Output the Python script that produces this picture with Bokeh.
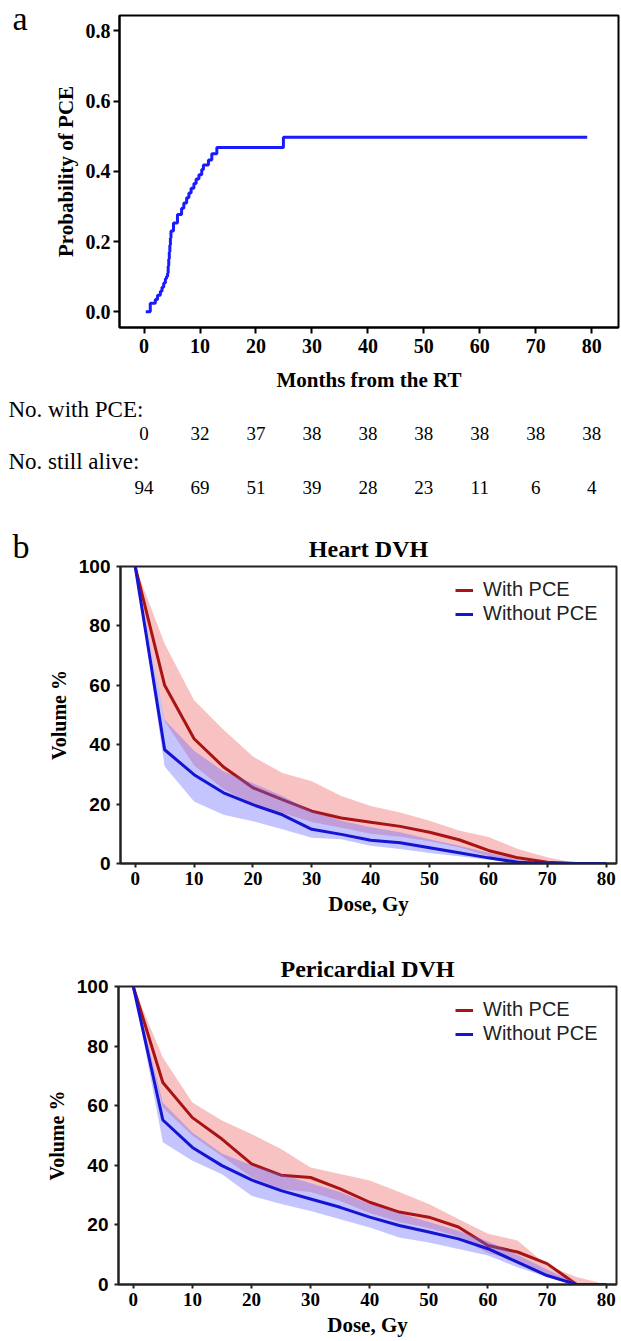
from bokeh.plotting import figure
from bokeh.layouts import column, row
from bokeh.models import (Range1d, FixedTicker, NumeralTickFormatter, ColumnDataSource,
                          Legend, LegendItem)
from bokeh.core.properties import value
from bokeh.embed import file_html
from bokeh.resources import INLINE

# ---------------- Panel a data (cumulative incidence of PCE) ----------------
km_months = [0.3, 1.1, 2.0, 2.4, 2.9, 3.2, 3.5, 3.8, 4.0, 4.2, 4.3, 4.4, 4.5, 4.6, 4.7, 4.8,
             5.25, 5.96, 6.7, 7.1, 7.6, 8.0, 8.4, 8.9, 9.3, 9.8, 10.3, 10.6, 11.5, 12.1,
             13.0, 24.9, 79.2]
km_prob = [0.0, 0.024, 0.035, 0.047, 0.058, 0.07, 0.082, 0.094, 0.10, 0.11, 0.13, 0.15, 0.17,
           0.19, 0.21, 0.23, 0.253, 0.277, 0.295, 0.31, 0.325, 0.338, 0.352, 0.365, 0.378,
           0.39, 0.405, 0.418, 0.432, 0.45, 0.468, 0.497, 0.497]

table_months = [0, 10, 20, 30, 40, 50, 60, 70, 80]
pce_counts = [0, 32, 37, 38, 38, 38, 38, 38, 38]
alive_counts = [94, 69, 51, 39, 28, 23, 11, 6, 4]
row_labels = ["No. with PCE:", "No. still alive:"]

# ---------------- Panel b data (DVH) ----------------
dose = [0, 5, 10, 15, 20, 25, 30, 35, 40, 45, 50, 55, 60, 65, 70, 75, 80]

heart_with = [100, 60, 42, 32.5, 25.5, 21.5, 17.6, 15.3, 13.9, 12.5, 10.5, 8, 4.4, 1.9, 0.4, 0, 0]
heart_with_hi = [100, 74, 55, 45, 36, 30.5, 27.7, 22.7, 19.4, 17.2, 14.4, 11.1, 8.9, 4.9, 2.1, 0, 0]
heart_with_lo = [100, 48, 33, 25, 20, 17, 14, 12, 10, 9, 7.5, 5.5, 2.5, 0.8, 0, 0, 0]
heart_wo = [100, 38.3, 29.9, 23.8, 19.8, 16.4, 11.5, 9.8, 7.8, 7.0, 5.3, 3.6, 1.9, 0.4, 0, 0, 0]
heart_wo_hi = [100, 48.4, 38, 31, 27, 22.7, 17.6, 14.4, 12.2, 10.5, 8.2, 6, 3.6, 1.3, 0, 0, 0]
heart_wo_lo = [100, 32.7, 20.9, 16.4, 14.2, 11.5, 8.7, 8.2, 6, 4.9, 3.5, 2.4, 1.3, 0.4, 0, 0, 0]

peri_with = [100, 67.8, 56, 48.8, 40.5, 36.7, 35.9, 32.1, 27.6, 24.3, 22.6, 19.3, 13.1, 10.9, 7.0, 0, 0]
peri_with_hi = [100, 76.2, 61.1, 55, 50.5, 45.5, 39.3, 37.1, 34.9, 31, 27, 22, 17, 14.8, 6.4, 2.5, 0]
peri_with_lo = [100, 59.4, 50, 43, 36, 32, 31, 28, 24, 21, 19, 16, 10.5, 8, 3, 0, 0]
peri_wo = [100, 55.2, 46, 39.9, 35.1, 31.5, 28.7, 25.9, 22.6, 19.8, 17.6, 15.3, 12, 7.5, 3, 0, 0]
peri_wo_hi = [100, 61, 51, 44, 40, 37, 34, 31, 27, 24, 21, 18, 14.5, 10, 5, 0.5, 0]
peri_wo_lo = [100, 47.7, 41.5, 37, 29.8, 27, 24.7, 21.9, 19.1, 15.8, 14.1, 11.9, 9.7, 5.8, 2.5, 0, 0]

SERIF = "Liberation Serif"
SANS = "Liberation Sans"


def blank_fig(width, height, x_range, y_range):
    p = figure(width=width, height=height, x_range=x_range, y_range=y_range,
               output_backend="svg", toolbar_location=None, frame_align=False,
               x_axis_type=None, y_axis_type=None,
               min_border_left=0, min_border_right=0, min_border_top=0, min_border_bottom=0)
    p.grid.visible = False
    p.outline_line_color = None
    return p


def letter_fig(letter, height, baseline_px):
    p = blank_fig(44, height, Range1d(0, 44), Range1d(height, 0))
    p.text(x=[12], y=[baseline_px], text=[letter], text_font=value(SERIF),
           text_font_size=value("34px"), text_align="left", text_baseline="alphabetic",
           text_color="black")
    return p


# ======================= Panel a =======================
PA_H = 394
pa = figure(width=576, height=PA_H, x_range=Range1d(-4.4, 84.8), y_range=Range1d(-0.045, 0.844),
            output_backend="svg", toolbar_location=None, frame_align=False,
            min_border_left=75, min_border_right=2, min_border_top=15,
            min_border_bottom=PA_H - 331)
pa.step(km_months, km_prob, mode="after", line_color="#1a1aff", line_width=3)

pa.grid.visible = False
pa.outline_line_color = "black"
pa.outline_line_width = 2
for ax in (pa.xaxis, pa.yaxis):
    ax.axis_line_color = "black"
    ax.axis_line_width = 2
    ax.major_tick_line_color = "black"
    ax.major_tick_line_width = 2
    ax.major_tick_in = 0
    ax.major_tick_out = 6
    ax.minor_tick_line_color = None
    ax.major_label_text_font = SERIF
    ax.major_label_text_font_style = "bold"
    ax.major_label_text_font_size = "20px"
    ax.major_label_text_color = "black"
    ax.axis_label_text_font = SERIF
    ax.axis_label_text_font_style = "bold"
    ax.axis_label_text_font_size = "21px"
    ax.axis_label_text_color = "black"
pa.xaxis.ticker = FixedTicker(ticks=table_months)
pa.yaxis.ticker = FixedTicker(ticks=[0, 0.2, 0.4, 0.6, 0.8])
pa.yaxis.formatter = NumeralTickFormatter(format="0.0")
pa.xaxis.axis_label = "Months from the RT"
pa.yaxis.axis_label = "Probability of PCE"
pa.xaxis.major_label_standoff = 5
pa.xaxis.axis_label_standoff = 12
pa.yaxis.major_label_standoff = 3
pa.yaxis.axis_label_standoff = 5

row_a = row(letter_fig("a", PA_H, 18), pa)

# ---------------- risk table (same month scale as panel a) ----------------
TBL_H = 109
px_per_month = 499 / 89.2
x0_px = 44 + 75 + 4.4 * px_per_month
tbl = blank_fig(620, TBL_H, Range1d(-x0_px / px_per_month, (620 - x0_px) / px_per_month),
                Range1d(TBL_H, 0))
label_x = (8 - x0_px) / px_per_month
tbl.text(x=[label_x, label_x], y=[15, 67], text=row_labels, text_font=value(SERIF),
         text_font_size=value("23px"), text_align="left", text_baseline="middle",
         text_color="black")
src1 = ColumnDataSource(dict(x=table_months, y=[39] * len(table_months),
                             text=[str(v) for v in pce_counts]))
src2 = ColumnDataSource(dict(x=table_months, y=[93] * len(table_months),
                             text=[str(v) for v in alive_counts]))
for src in (src1, src2):
    tbl.text(x="x", y="y", text="text", source=src, text_align="center",
             text_baseline="middle", text_font=value(SERIF),
             text_font_size=value("19px"), text_color="black")


# ======================= Panel b =======================
def dvh_panel(title, width, height, left, top, bottom, w, w_hi, w_lo, wo, wo_hi, wo_lo):
    p = figure(width=width, height=height, x_range=Range1d(-2.5, 81.75), y_range=Range1d(0, 100),
               output_backend="svg", toolbar_location=None, title=title, frame_align=False,
               min_border_left=left, min_border_right=4, min_border_top=top,
               min_border_bottom=bottom)
    p.varea(x=dose, y1=w_lo, y2=w_hi, fill_color="#f07878", fill_alpha=0.45)
    r_red = p.line(dose, w, line_color="#a81414", line_width=3)
    p.varea(x=dose, y1=wo_lo, y2=wo_hi, fill_color="#6464ff", fill_alpha=0.38)
    r_blue = p.line(dose, wo, line_color="#1414d2", line_width=3)

    p.title.text_font = SERIF
    p.title.text_font_style = "bold"
    p.title.text_font_size = "24px"
    p.title.align = "center"
    p.title.standoff = 10
    p.title.text_color = "black"

    p.grid.visible = False
    p.outline_line_color = "#222222"
    p.outline_line_width = 2
    for ax in (p.xaxis, p.yaxis):
        ax.axis_line_color = "#222222"
        ax.axis_line_width = 2
        ax.major_tick_line_color = "#222222"
        ax.major_tick_line_width = 2
        ax.major_tick_in = 0
        ax.major_tick_out = 4
        ax.minor_tick_line_color = None
        ax.major_label_text_font_style = "bold"
        ax.major_label_text_font_size = "19px"
        ax.major_label_text_color = "black"
        ax.axis_label_text_font = SERIF
        ax.axis_label_text_font_style = "bold"
        ax.axis_label_text_color = "black"
    p.xaxis.major_label_text_font = SERIF
    p.yaxis.major_label_text_font = SANS
    p.xaxis.ticker = FixedTicker(ticks=[0, 10, 20, 30, 40, 50, 60, 70, 80])
    p.yaxis.ticker = FixedTicker(ticks=[0, 20, 40, 60, 80, 100])
    p.xaxis.axis_label = "Dose, Gy"
    p.yaxis.axis_label = "Volume %"
    p.xaxis.axis_label_text_font_size = "21px"
    p.yaxis.axis_label_text_font_size = "20px"
    p.xaxis.major_label_standoff = 4
    p.xaxis.axis_label_standoff = 4
    p.yaxis.major_label_standoff = 6
    p.yaxis.axis_label_standoff = 6

    legend = Legend(items=[LegendItem(label="With PCE", renderers=[r_red]),
                           LegendItem(label="Without PCE", renderers=[r_blue])],
                    location="top_right")
    legend.label_text_font = SANS
    legend.label_text_font_size = "20px"
    legend.label_text_color = "#222222"
    legend.glyph_width = 18
    legend.glyph_height = 20
    legend.label_standoff = 10
    legend.label_width = 121
    legend.padding = 0
    legend.margin = 12
    legend.spacing = 1
    legend.border_line_color = None
    legend.background_fill_alpha = 0
    p.add_layout(legend)
    return p


pb = dvh_panel("Heart DVH", 576, 415, 74, 63, 54, heart_with, heart_with_hi, heart_with_lo,
               heart_wo, heart_wo_hi, heart_wo_lo)
row_b = row(letter_fig("b", 415, 43), pb)
pc = dvh_panel("Pericardial DVH", 620, 422, 118, 68, 56, peri_with, peri_with_hi, peri_with_lo,
               peri_wo, peri_wo_hi, peri_wo_lo)

layout = column(row_a, tbl, row_b, pc, spacing=0)
open("out.html", "w").write(file_html(layout, INLINE))
